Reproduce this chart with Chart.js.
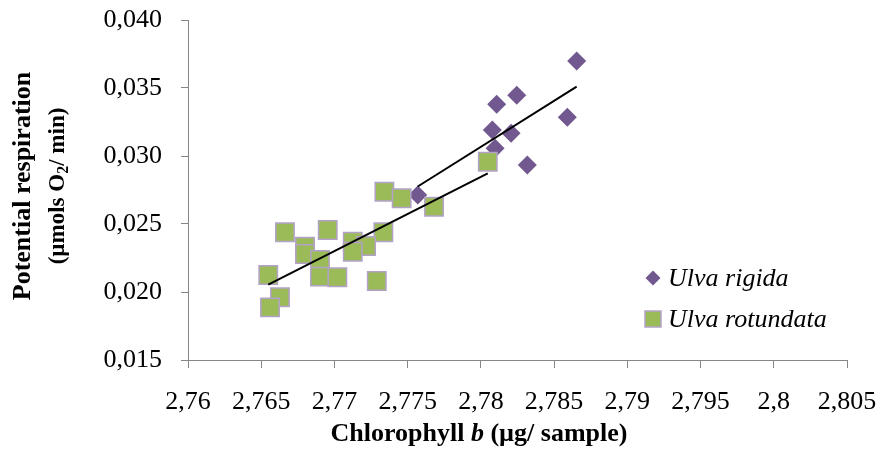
<!DOCTYPE html>
<html>
<head>
<meta charset="utf-8">
<script src="https://cdn.jsdelivr.net/npm/chart.js@4.4.0/dist/chart.umd.min.js"></script>
<style>
  html, body { margin: 0; padding: 0; background: #fff; }
  #wrap { width: 878px; height: 454px; }
</style>
</head>
<body>
<div id="wrap"><canvas id="respChart" width="878" height="454"></canvas></div>
<script>
// Ulva rigida (purple diamonds)
const rigidaX = [2.78654, 2.78245, 2.78108, 2.7859, 2.78078, 2.78206, 2.78097, 2.78317, 2.77569];
const rigidaY = [0.03699, 0.03446, 0.0338, 0.03285, 0.03191, 0.03167, 0.03057, 0.02934, 0.02713];

// Ulva rotundata (green squares)
const rotundataX = [2.78047, 2.77341, 2.77459, 2.7768, 2.76662, 2.76954, 2.77334, 2.76799, 2.76799,
                    2.77125, 2.77216, 2.77125, 2.76901, 2.76548, 2.76901, 2.7702, 2.77289, 2.76628, 2.7656];
const rotundataY = [0.02958, 0.02737, 0.02689, 0.02627, 0.02439, 0.02456, 0.02439, 0.02333, 0.02279,
                    0.0237, 0.02338, 0.02296, 0.02235, 0.02125, 0.02113, 0.02108, 0.02081, 0.01961, 0.01887];

const seriesNames = ['Ulva rigida', 'Ulva rotundata'];
const xTicks = [2.76, 2.765, 2.77, 2.775, 2.78, 2.785, 2.79, 2.795, 2.8, 2.805];
const yTicks = [0.015, 0.020, 0.025, 0.030, 0.035, 0.040];

const purple = '#71588F';
const green = '#9BBB59';
const greenEdge = '#B3A2C7';
const axisGrey = '#868686';
const serif = "'Liberation Serif', 'Times New Roman', serif";

function toPoints(xs, ys) {
    return xs.map((x, i) => ({ x: x, y: ys[i] }));
}

// least squares line across the range of the series
function trendLine(xs, ys) {
    const n = xs.length;
    const mx = xs.reduce((a, b) => a + b, 0) / n;
    const my = ys.reduce((a, b) => a + b, 0) / n;
    let sxy = 0, sxx = 0;
    for (let i = 0; i < n; i++) {
        sxy += (xs[i] - mx) * (ys[i] - my);
        sxx += (xs[i] - mx) * (xs[i] - mx);
    }
    const slope = sxy / sxx;
    const icpt = my - slope * mx;
    const x0 = Math.min(...xs), x1 = Math.max(...xs);
    return [{ x: x0, y: icpt + slope * x0 }, { x: x1, y: icpt + slope * x1 }];
}

function commaNum(v, digits) {
    if (digits) return v.toFixed(digits).replace('.', ',');
    return String(Math.round(v * 1000) / 1000).replace('.', ',');
}

// keep the plot area exactly where the layout padding puts it
function noEdgePad(s) {
    s.paddingLeft = 0;
    s.paddingRight = 0;
    s.paddingTop = 0;
    s.paddingBottom = 0;
}

const decorPlugin = {
    id: 'decor',
    afterDraw(chart) {
        const ctx = chart.ctx;
        ctx.save();
        ctx.fillStyle = '#000';
        ctx.textBaseline = 'middle';

        // y axis title, two lines, rotated
        ctx.save();
        ctx.translate(23, 186);
        ctx.rotate(-Math.PI / 2);
        ctx.font = 'bold 26px ' + serif;
        ctx.textAlign = 'center';
        ctx.fillText('Potential respiration', 0, 0);
        ctx.textAlign = 'left';
        const a = '(µmols O', b = '/ min)';
        ctx.font = 'bold 23px ' + serif;
        const wa = ctx.measureText(a).width;
        const wc = ctx.measureText(b).width;
        ctx.font = 'bold 16px ' + serif;
        const wb = ctx.measureText('2').width;
        let sx = -(wa + wb + wc) / 2;
        ctx.font = 'bold 23px ' + serif;
        ctx.fillText(a, sx, 35);
        ctx.font = 'bold 16px ' + serif;
        ctx.fillText('2', sx + wa, 41);
        ctx.font = 'bold 23px ' + serif;
        ctx.fillText(b, sx + wa + wb, 35);
        ctx.restore();

        // x axis title with italic b
        const p1 = 'Chlorophyll ', p2 = 'b', p3 = ' (µg/ sample)';
        ctx.font = 'bold 26px ' + serif;
        const w1 = ctx.measureText(p1).width;
        const w3 = ctx.measureText(p3).width;
        ctx.font = 'bold italic 26px ' + serif;
        const w2 = ctx.measureText(p2).width;
        let tx = 479 - (w1 + w2 + w3) / 2;
        ctx.textAlign = 'left';
        ctx.font = 'bold 26px ' + serif;
        ctx.fillText(p1, tx, 434);
        ctx.font = 'bold italic 26px ' + serif;
        ctx.fillText(p2, tx + w1, 434);
        ctx.font = 'bold 26px ' + serif;
        ctx.fillText(p3, tx + w1 + w2, 434);

        // legend
        ctx.fillStyle = purple;
        ctx.beginPath();
        ctx.moveTo(653, 270.5);
        ctx.lineTo(660.5, 278);
        ctx.lineTo(653, 285.5);
        ctx.lineTo(645.5, 278);
        ctx.closePath();
        ctx.fill();

        ctx.fillStyle = green;
        ctx.fillRect(645, 311, 16, 16);
        ctx.strokeStyle = greenEdge;
        ctx.lineWidth = 1.5;
        ctx.strokeRect(645, 311, 16, 16);

        ctx.fillStyle = '#000';
        ctx.font = 'italic 26px ' + serif;
        ctx.fillText(seriesNames[0], 668, 279);
        ctx.fillText(seriesNames[1], 668, 320);
        ctx.restore();
    }
};

const ctx = document.getElementById('respChart').getContext('2d');
new Chart(ctx, {
    type: 'scatter',
    data: {
        datasets: [
            {
                label: seriesNames[0] + ' trend',
                data: trendLine(rigidaX, rigidaY),
                showLine: true,
                borderColor: '#000',
                borderWidth: 2,
                pointRadius: 0,
                order: 0
            },
            {
                label: seriesNames[1] + ' trend',
                data: trendLine(rotundataX, rotundataY),
                showLine: true,
                borderColor: '#000',
                borderWidth: 2,
                pointRadius: 0,
                order: 0
            },
            {
                label: seriesNames[1],
                data: toPoints(rotundataX, rotundataY),
                pointStyle: 'rect',
                pointRadius: 13,
                backgroundColor: green,
                borderColor: greenEdge,
                borderWidth: 1.5,
                order: 1
            },
            {
                label: seriesNames[0],
                data: toPoints(rigidaX, rigidaY),
                pointStyle: 'rectRot',
                pointRadius: 9.5,
                backgroundColor: purple,
                borderColor: purple,
                borderWidth: 0,
                order: 2
            }
        ]
    },
    options: {
        responsive: false,
        animation: false,
        devicePixelRatio: 1,
        events: [],
        layout: { padding: { top: 20, right: 31, left: 0, bottom: 0 } },
        plugins: {
            legend: { display: false },
            tooltip: { enabled: false }
        },
        scales: {
            x: {
                type: 'linear',
                min: 2.76,
                max: 2.805,
                afterBuildTicks: s => { s.ticks = xTicks.map(v => ({ value: v })); },
                afterFit: s => { s.height = 94; noEdgePad(s); },
                grid: { drawOnChartArea: false, drawTicks: true, tickLength: 8, color: axisGrey },
                border: { color: axisGrey, width: 1 },
                ticks: {
                    autoSkip: false,
                    maxRotation: 0,
                    padding: 19,
                    color: '#000',
                    font: { family: serif, size: 26 },
                    callback: v => commaNum(v)
                }
            },
            y: {
                type: 'linear',
                min: 0.015,
                max: 0.040,
                afterBuildTicks: s => { s.ticks = yTicks.map(v => ({ value: v })); },
                afterFit: s => { s.width = 188; noEdgePad(s); },
                grid: { drawOnChartArea: false, drawTicks: true, tickLength: 7, color: axisGrey },
                border: { color: axisGrey, width: 1 },
                ticks: {
                    padding: 19,
                    color: '#000',
                    font: { family: serif, size: 26 },
                    callback: v => commaNum(v, 3)
                }
            }
        }
    },
    plugins: [decorPlugin]
});
</script>
</body>
</html>
